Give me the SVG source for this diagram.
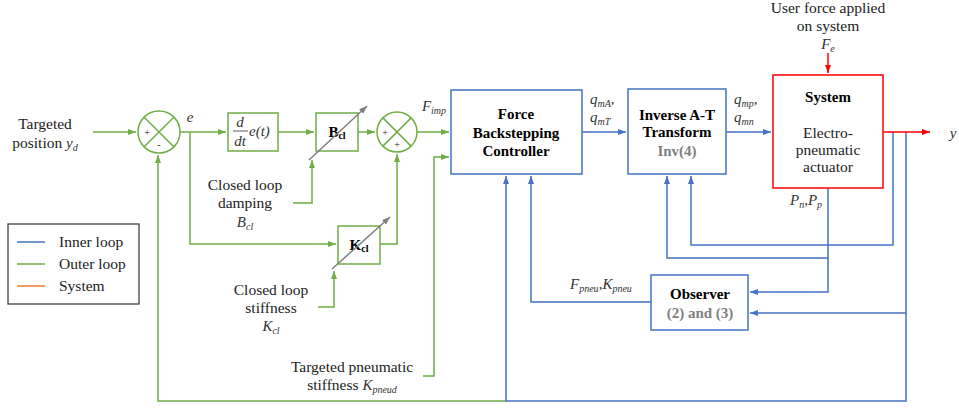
<svg xmlns="http://www.w3.org/2000/svg" width="959" height="409" viewBox="0 0 959 409">
<style>
.t{font-family:"Liberation Serif","DejaVu Serif",serif;font-size:15.5px;fill:#222}
.m{font-family:"Liberation Serif","DejaVu Serif",serif;font-style:italic;font-size:15px;fill:#333}
.b{font-family:"Liberation Serif","DejaVu Serif",serif;font-weight:bold;font-size:15px;fill:#000}
.g{fill:#808080}
.s{font-size:10px}
.gn{fill:none;stroke:#70AD47;stroke-width:1.5}
.bl{fill:none;stroke:#4472C4;stroke-width:1.5}
.rd{fill:none;stroke:#FF0000;stroke-width:1.5}
.gy{fill:none;stroke:#7F7F7F;stroke-width:1.5}
.box{fill:#fff;stroke-width:1.5}
</style>
<defs>
<marker id="ag" markerUnits="userSpaceOnUse" markerWidth="8" markerHeight="6" refX="8" refY="3" orient="auto"><path d="M0,0 L8,3 L0,6 z" fill="#70AD47"/></marker>
<marker id="ab" markerUnits="userSpaceOnUse" markerWidth="8" markerHeight="6" refX="8" refY="3" orient="auto"><path d="M0,0 L8,3 L0,6 z" fill="#4472C4"/></marker>
<marker id="ar" markerUnits="userSpaceOnUse" markerWidth="8" markerHeight="6" refX="8" refY="3" orient="auto"><path d="M0,0 L8,3 L0,6 z" fill="#FF0000"/></marker>
<marker id="ay" markerUnits="userSpaceOnUse" markerWidth="8" markerHeight="6" refX="8" refY="3" orient="auto"><path d="M0,0 L8,3 L0,6 z" fill="#7F7F7F"/></marker>
</defs>
<rect width="959" height="409" fill="#fff"/>

<g id="connectors">
<path class="gn" d="M93,132 H136" marker-end="url(#ag)"/>
<path class="gn" d="M180,132 H226" marker-end="url(#ag)"/>
<path class="gn" d="M190,132 V244 H336" marker-end="url(#ag)"/>
<path class="gn" d="M278,132 H314" marker-end="url(#ag)"/>
<path class="gn" d="M358,132 H375" marker-end="url(#ag)"/>
<path class="gn" d="M417,132 H449" marker-end="url(#ag)"/>
<path class="gn" d="M293,203 H312 V160" marker-end="url(#ag)"/>
<path class="gn" d="M380,244 H397 V154" marker-end="url(#ag)"/>
<path class="gn" d="M318,307 H334 V271" marker-end="url(#ag)"/>
<path class="gn" d="M423,376 H434 V157 H449" marker-end="url(#ag)"/>
<path class="gn" d="M506,401 H158 V155" marker-end="url(#ag)"/>
<path class="bl" d="M906,132 V401 H506 V176" marker-end="url(#ab)"/>
<path class="bl" d="M906,313 H750" marker-end="url(#ab)"/>
<path class="bl" d="M828,188 V292 H750" marker-end="url(#ab)"/>
<path class="bl" d="M828,258 H667 V176" marker-end="url(#ab)"/>
<path class="bl" d="M893,132 V245 H691 V176" marker-end="url(#ab)"/>
<path class="bl" d="M651,302 H531 V176" marker-end="url(#ab)"/>
<path class="bl" d="M582,132 H626" marker-end="url(#ab)"/>
<path class="bl" d="M726,132 H771" marker-end="url(#ab)"/>
<path class="rd" d="M883,132 H930" marker-end="url(#ar)"/>
<path class="rd" d="M828,53 V73" marker-end="url(#ar)"/>
</g>

<g id="label-input">
<text class="t" x="45" y="129" text-anchor="middle">Targeted</text>
<text class="t" x="45" y="148" text-anchor="middle">position <tspan class="m">y<tspan class="s" dy="3">d</tspan></tspan></text>
</g>

<g id="sum1">
<circle cx="159" cy="132" r="21" fill="#fff" stroke="#70AD47" stroke-width="1.5"/>
<path class="gn" d="M144.2,117.2 L173.8,146.8 M173.8,117.2 L144.2,146.8"/>
<text class="t" x="147" y="136" text-anchor="middle" style="font-size:10px">+</text>
<text class="t" x="159" y="148" text-anchor="middle" style="font-size:10px">-</text>
</g>
<text class="m" x="190" y="122" text-anchor="middle">e</text>

<g id="deriv">
<rect class="box" x="228" y="113" width="50" height="38" stroke="#70AD47"/>
<text class="m" x="240" y="127" text-anchor="middle">d</text>
<line x1="233" y1="131" x2="248" y2="131" stroke="#333" stroke-width="0.8"/>
<text class="m" x="240" y="146" text-anchor="middle">dt</text>
<text class="m" x="249" y="136">e(t)</text>
</g>

<g id="bcl">
<rect class="box" x="316" y="113" width="42" height="38" stroke="#70AD47"/>
<text class="b" x="337" y="137" text-anchor="middle">B<tspan class="s" dy="2">cl</tspan></text>
<path class="gy" d="M309,160 L367,106" marker-end="url(#ay)"/>
</g>

<g id="sum2">
<circle cx="397" cy="132" r="20" fill="#fff" stroke="#70AD47" stroke-width="1.5"/>
<path class="gn" d="M382.9,117.9 L411.1,146.1 M411.1,117.9 L382.9,146.1"/>
<text class="t" x="385" y="136" text-anchor="middle" style="font-size:10px">+</text>
<text class="t" x="397" y="148" text-anchor="middle" style="font-size:10px">+</text>
</g>
<text class="m" x="434" y="111" text-anchor="middle">F<tspan class="s" dy="3">imp</tspan></text>

<g id="kcl">
<rect class="box" x="338" y="226" width="42" height="38" stroke="#70AD47"/>
<text class="b" x="359" y="250" text-anchor="middle">K<tspan class="s" dy="2">cl</tspan></text>
<path class="gy" d="M332,269 L390,217" marker-end="url(#ay)"/>
</g>

<g id="label-damping">
<text class="t" x="245" y="190" text-anchor="middle">Closed loop</text>
<text class="t" x="245" y="208" text-anchor="middle">damping</text>
<text class="m" x="245" y="227" text-anchor="middle">B<tspan class="s" dy="3">cl</tspan></text>
</g>
<g id="label-stiffness">
<text class="t" x="271" y="295" text-anchor="middle">Closed loop</text>
<text class="t" x="271" y="313" text-anchor="middle">stiffness</text>
<text class="m" x="271" y="331" text-anchor="middle">K<tspan class="s" dy="3">cl</tspan></text>
</g>
<g id="label-pneud">
<text class="t" x="352" y="372" text-anchor="middle">Targeted pneumatic</text>
<text class="t" x="352" y="390" text-anchor="middle">stiffness <tspan class="m">K<tspan class="s" dy="3">pneud</tspan></tspan></text>
</g>

<g id="force">
<rect class="box" x="451" y="90" width="131" height="84" stroke="#4472C4"/>
<text class="b" x="516" y="119" text-anchor="middle">Force</text>
<text class="b" x="516" y="138" text-anchor="middle">Backstepping</text>
<text class="b" x="516" y="156" text-anchor="middle">Controller</text>
</g>
<text class="m" x="590" y="104">q<tspan class="s" dy="3">mA</tspan><tspan dy="-3">,</tspan></text>
<text class="m" x="590" y="122">q<tspan class="s" dy="3">mT</tspan></text>

<g id="inverse">
<rect class="box" x="628" y="89" width="98" height="85" stroke="#4472C4"/>
<text class="b" x="677" y="120" text-anchor="middle">Inverse A-T</text>
<text class="b" x="677" y="137" text-anchor="middle">Transform</text>
<text class="b g" x="677" y="156" text-anchor="middle">Inv(4)</text>
</g>
<text class="m" x="734" y="104">q<tspan class="s" dy="3">mp</tspan><tspan dy="-3">,</tspan></text>
<text class="m" x="734" y="122">q<tspan class="s" dy="3">mn</tspan></text>

<g id="system">
<rect class="box" x="773" y="75" width="110" height="113" stroke="#FF0000"/>
<text class="b" x="828" y="102" text-anchor="middle">System</text>
<text class="t" x="828" y="138" text-anchor="middle">Electro-</text>
<text class="t" x="828" y="155" text-anchor="middle">pneumatic</text>
<text class="t" x="828" y="172" text-anchor="middle">actuator</text>
</g>
<g id="label-user">
<text class="t" x="828" y="13" text-anchor="middle">User force applied</text>
<text class="t" x="828" y="31" text-anchor="middle">on system</text>
<text class="m" x="828" y="49" text-anchor="middle">F<tspan class="s" dy="3">e</tspan></text>
</g>
<text class="m" x="953" y="138" text-anchor="middle">y</text>
<text class="m" x="790" y="205">P<tspan class="s" dy="3">n</tspan><tspan dy="-3">,P</tspan><tspan class="s" dy="3">p</tspan></text>

<g id="observer">
<rect class="box" x="651" y="275" width="97" height="55" stroke="#4472C4"/>
<text class="b" x="700" y="299" text-anchor="middle">Observer</text>
<text class="b g" x="700" y="318" text-anchor="middle">(2) and (3)</text>
</g>
<text class="m" x="570" y="289">F<tspan class="s" dy="3">pneu</tspan><tspan dy="-3">,K</tspan><tspan class="s" dy="3">pneu</tspan></text>

<g id="legend">
<rect x="8" y="224" width="131" height="80" fill="#fff" stroke="#333" stroke-width="1.2"/>
<line x1="17" y1="242" x2="45" y2="242" stroke="#4472C4" stroke-width="1.5"/>
<line x1="17" y1="264" x2="45" y2="264" stroke="#70AD47" stroke-width="1.5"/>
<line x1="17" y1="286" x2="45" y2="286" stroke="#ED7D31" stroke-width="1.5"/>
<text class="t" x="59" y="247">Inner loop</text>
<text class="t" x="59" y="269">Outer loop</text>
<text class="t" x="59" y="291">System</text>
</g>
</svg>
